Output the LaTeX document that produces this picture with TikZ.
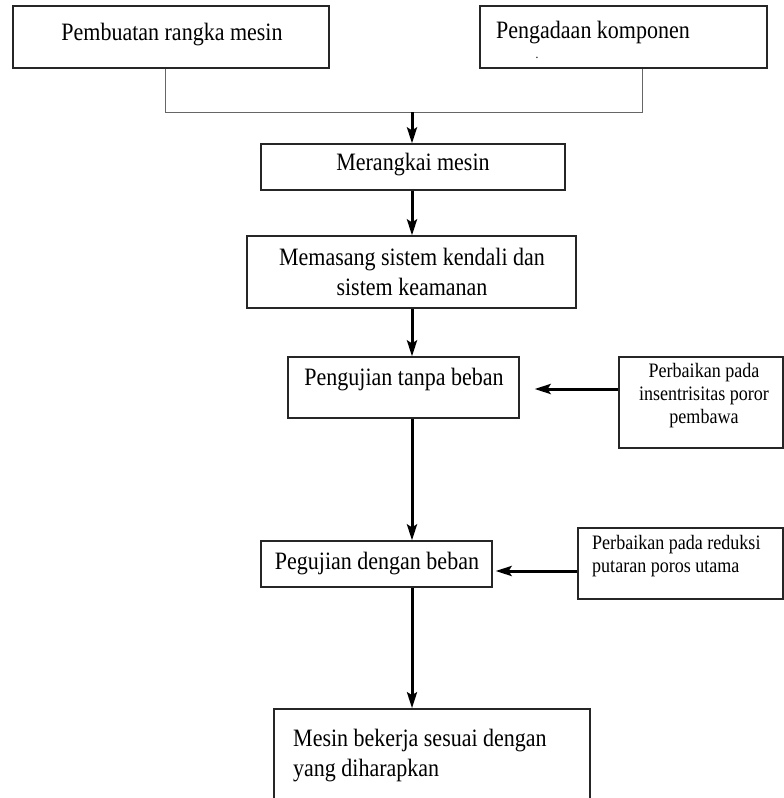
\documentclass[tikz,border=0pt]{standalone}
\usepackage{fontspec}
\setmainfont{Liberation Serif}[FakeStretch=0.88]
\usetikzlibrary{arrows.meta}
\begin{document}
\begin{tikzpicture}[x=1pt,y=-1pt,
  box/.style={draw=black!85, line width=1.2pt, inner sep=0pt, rectangle},
  bigtxt/.style={inner sep=0pt, font=\fontsize{25}{30}\selectfont},
  smalltxt/.style={inner sep=0pt, font=\fontsize{20.5}{23}\selectfont},
  conn/.style={draw=black!60, line width=1pt},
  arr/.style={draw=black, line width=3pt, -{Stealth[length=16pt,width=10pt,inset=3pt]}}
]
\useasboundingbox (0,0) rectangle (784,798);
% boxes
\node[box, minimum width=316pt, minimum height=62pt] (a) at (171,37) {};
\node[box, minimum width=287pt, minimum height=62pt] (b) at (623.5,37) {};
\node[box, minimum width=304pt, minimum height=46pt] (m1) at (413,167) {};
\node[box, minimum width=329pt, minimum height=72pt] (m2) at (411.5,272) {};
\node[box, minimum width=231pt, minimum height=61pt] (p1) at (403.5,387.5) {};
\node[box, minimum width=164pt, minimum height=91pt] (r1) at (701,402.5) {};
\node[box, minimum width=231pt, minimum height=46pt] (p2) at (376.5,564) {};
\node[box, line width=1.4pt, minimum width=205pt, minimum height=71pt] (r2) at (680.5,563.5) {};
\node[box, line width=1.6pt, minimum width=316pt, minimum height=100pt] (f) at (432,759) {};
% texts
\node[bigtxt] at (172,35) {Pembuatan rangka mesin};
\node[bigtxt, anchor=west] at (496,33) {Pengadaan komponen};
\node[inner sep=0pt, font=\fontsize{13}{14}\selectfont] at (537,58) {.};
\node[bigtxt] at (413,165) {Merangkai mesin};
\node[bigtxt, align=center] at (412,272) {Memasang sistem kendali dan\\sistem keamanan};
\node[bigtxt] at (404,380) {Pengujian tanpa beban};
\node[smalltxt, align=center] at (704,396) {Perbaikan pada\\insentrisitas poror\\pembawa};
\node[bigtxt] at (377,564) {Pegujian dengan beban};
\node[smalltxt, align=left, anchor=west] at (592,556) {Perbaikan pada reduksi\\putaran poros utama};
\node[bigtxt, align=left, anchor=west] at (293,756) {Mesin bekerja sesuai dengan\\yang diharapkan};
% connectors
\coordinate (ja) at (165,112);
\coordinate (jb) at (642,112);
\coordinate (ax) at (412,0);
\draw[conn] (a.south -| ja) -- (ja) -- (jb) -- (b.south -| jb);
\draw[arr] (ja -| ax) -- (m1.north -| ax);
\draw[arr] (m1.south -| ax) -- (m2.north -| ax);
\draw[arr] (m2.south -| ax) -- (p1.north -| ax);
\draw[arr] (p1.south -| ax) -- (p2.north -| ax);
\draw[arr] (p2.south -| ax) -- (f.north -| ax);
\coordinate (y1) at (0,389);
\coordinate (y2) at (0,571);
\draw[arr, shorten >=15pt] (r1.west |- y1) -- (p1.east |- y1);
\draw[arr, shorten >=3pt] (r2.west |- y2) -- (p2.east |- y2);
\end{tikzpicture}
\end{document}
